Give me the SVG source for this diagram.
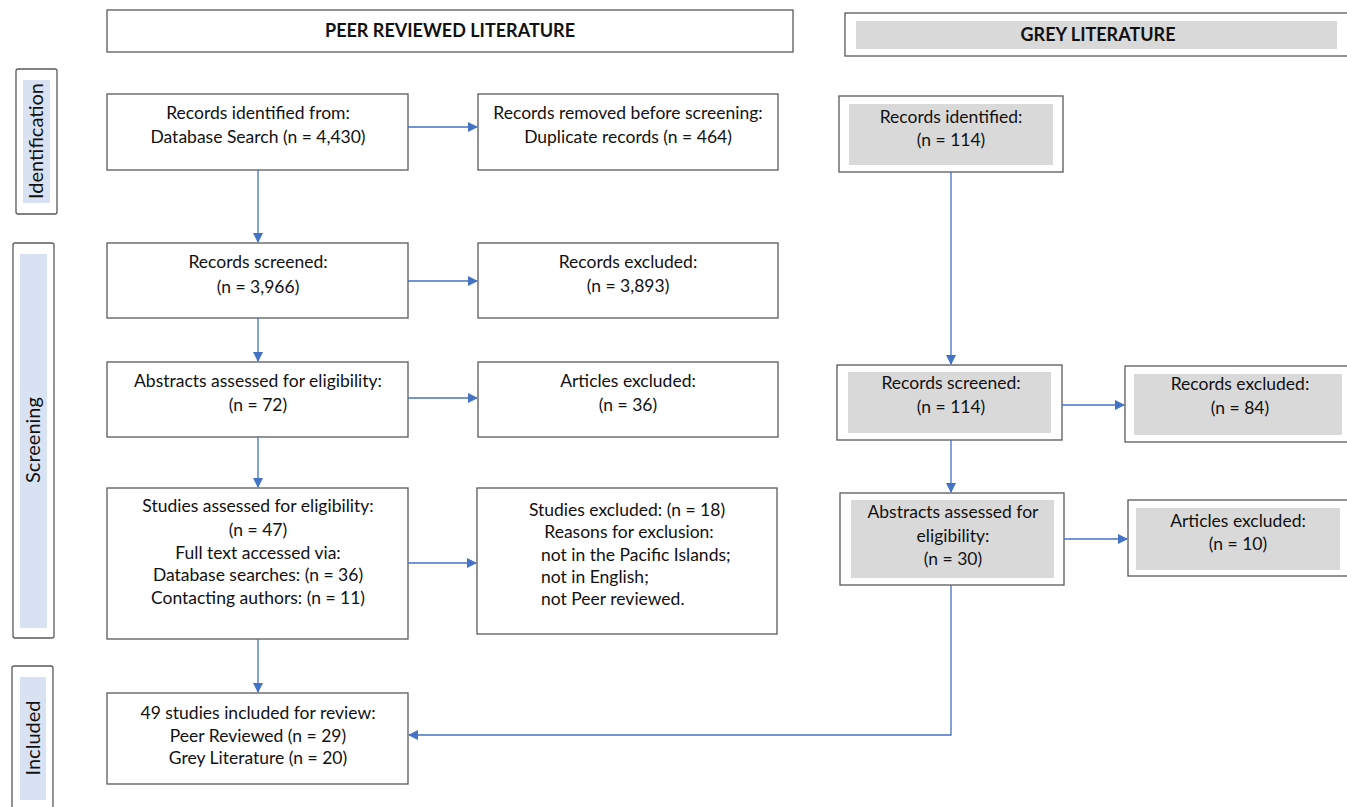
<svg xmlns="http://www.w3.org/2000/svg" width="1347" height="807" viewBox="0 0 1347 807">
<style>
.box{fill:#fff;stroke:#595959;stroke-width:1.3}
.gin{fill:#d9d9d9}
.bin{fill:#d9e2f3}
text{font-family:"Lato","Liberation Sans",sans-serif;font-size:17.5px;fill:#111;text-anchor:middle}
.hd{font-weight:bold;font-size:18px}
.side{font-size:20px}
.con{stroke:#4472c4;stroke-width:1.3;fill:none}
.l{text-anchor:start}
</style>
<defs>
<marker id="ah" viewBox="0 0 10 10" refX="9" refY="5" markerWidth="10" markerHeight="10" markerUnits="userSpaceOnUse" orient="auto">
<path d="M0,0 L10,5 L0,10 z" fill="#4472c4"/>
</marker>
</defs>
<rect width="1347" height="807" fill="#fff"/>

<g id="hdr-peer"><rect class="box" x="107" y="10" width="686" height="42"/><text class="hd" x="450" y="37">PEER REVIEWED LITERATURE</text></g>
<g id="hdr-grey"><rect class="box" x="845" y="13" width="510" height="43"/><rect class="gin" x="856" y="21" width="481" height="28"/><text class="hd" x="1098" y="41">GREY LITERATURE</text></g>

<g id="side-ident"><rect class="box" x="16" y="69" width="41" height="145" rx="2"/><rect class="bin" x="23" y="80" width="27" height="123"/><text class="side" transform="translate(43,141) rotate(-90)">Identification</text></g>
<g id="side-screen"><rect class="box" x="13" y="243" width="41" height="395" rx="2"/><rect class="bin" x="20" y="254" width="27" height="374"/><text class="side" transform="translate(40,440) rotate(-90)">Screening</text></g>
<g id="side-incl"><rect class="box" x="12" y="666" width="41" height="150" rx="2"/><rect class="bin" x="20" y="677" width="26" height="123"/><text class="side" transform="translate(40,738) rotate(-90)">Included</text></g>

<g id="n-identified"><rect class="box" x="107" y="94" width="301" height="76"/><text x="258" y="119">Records identified from:</text><text x="258" y="143">Database Search (n = 4,430)</text></g>
<g id="n-removed"><rect class="box" x="478" y="94" width="300" height="76"/><text x="628" y="119">Records removed before screening:</text><text x="628" y="143">Duplicate records (n = 464)</text></g>
<g id="n-screened"><rect class="box" x="107" y="243" width="301" height="75"/><text x="258" y="268">Records screened:</text><text x="258" y="293">(n = 3,966)</text></g>
<g id="n-rexcl"><rect class="box" x="478" y="243" width="300" height="75"/><text x="628" y="268">Records excluded:</text><text x="628" y="292">(n = 3,893)</text></g>
<g id="n-abstracts"><rect class="box" x="107" y="362" width="301" height="75"/><text x="258" y="387">Abstracts assessed for eligibility:</text><text x="258" y="411">(n = 72)</text></g>
<g id="n-aexcl"><rect class="box" x="478" y="362" width="300" height="75"/><text x="628" y="387">Articles excluded:</text><text x="628" y="411">(n = 36)</text></g>
<g id="n-studies"><rect class="box" x="107" y="488" width="301" height="151"/><text x="258" y="512">Studies assessed for eligibility:</text><text x="258" y="536">(n = 47)</text><text x="258" y="559">Full text accessed via:</text><text x="258" y="581">Database searches: (n = 36)</text><text x="258" y="604">Contacting authors: (n = 11)</text></g>
<g id="n-sexcl"><rect class="box" x="477" y="488" width="300" height="146"/><text x="627" y="516">Studies excluded: (n = 18)</text><text x="629" y="538">Reasons for exclusion:</text><text class="l" x="541" y="561">not in the Pacific Islands;</text><text class="l" x="541" y="583">not in English;</text><text class="l" x="541" y="605">not Peer reviewed.</text></g>
<g id="n-included"><rect class="box" x="107" y="693" width="301" height="91"/><text x="258" y="719">49 studies included for review:</text><text x="258" y="742">Peer Reviewed (n = 29)</text><text x="258" y="764">Grey Literature (n = 20)</text></g>

<g id="g-identified"><rect class="box" x="839" y="96" width="224" height="76"/><rect class="gin" x="849" y="104" width="204" height="61"/><text x="951" y="123">Records identified:</text><text x="951" y="146">(n = 114)</text></g>
<g id="g-screened"><rect class="box" x="837" y="365" width="225" height="75"/><rect class="gin" x="848" y="372" width="203" height="61"/><text x="951" y="389">Records screened:</text><text x="951" y="413">(n = 114)</text></g>
<g id="g-rexcl"><rect class="box" x="1125" y="366" width="230" height="76"/><rect class="gin" x="1134" y="374" width="208" height="61"/><text x="1240" y="390">Records excluded:</text><text x="1240" y="414">(n = 84)</text></g>
<g id="g-abstracts"><rect class="box" x="840" y="493" width="224" height="92"/><rect class="gin" x="851" y="500" width="203" height="78"/><text x="953" y="518">Abstracts assessed for</text><text x="953" y="542">eligibility:</text><text x="953" y="565">(n = 30)</text></g>
<g id="g-aexcl"><rect class="box" x="1128" y="500" width="230" height="76"/><rect class="gin" x="1136" y="508" width="204" height="62"/><text x="1238" y="527">Articles excluded:</text><text x="1238" y="550">(n = 10)</text></g>

<g id="connectors">
<line class="con" x1="408" y1="127" x2="477" y2="127" marker-end="url(#ah)"/>
<line class="con" x1="258" y1="170" x2="258" y2="242" marker-end="url(#ah)"/>
<line class="con" x1="408" y1="281" x2="477" y2="281" marker-end="url(#ah)"/>
<line class="con" x1="258" y1="318" x2="258" y2="361" marker-end="url(#ah)"/>
<line class="con" x1="408" y1="398" x2="477" y2="398" marker-end="url(#ah)"/>
<line class="con" x1="258" y1="437" x2="258" y2="487" marker-end="url(#ah)"/>
<line class="con" x1="408" y1="563" x2="476" y2="563" marker-end="url(#ah)"/>
<line class="con" x1="258" y1="639" x2="258" y2="692" marker-end="url(#ah)"/>
<line class="con" x1="951" y1="172" x2="951" y2="364" marker-end="url(#ah)"/>
<line class="con" x1="1062" y1="405" x2="1124" y2="405" marker-end="url(#ah)"/>
<line class="con" x1="951" y1="440" x2="951" y2="492" marker-end="url(#ah)"/>
<line class="con" x1="1064" y1="539" x2="1127" y2="539" marker-end="url(#ah)"/>
<polyline class="con" points="951,585 951,735 409,735" marker-end="url(#ah)"/>
</g>
</svg>
